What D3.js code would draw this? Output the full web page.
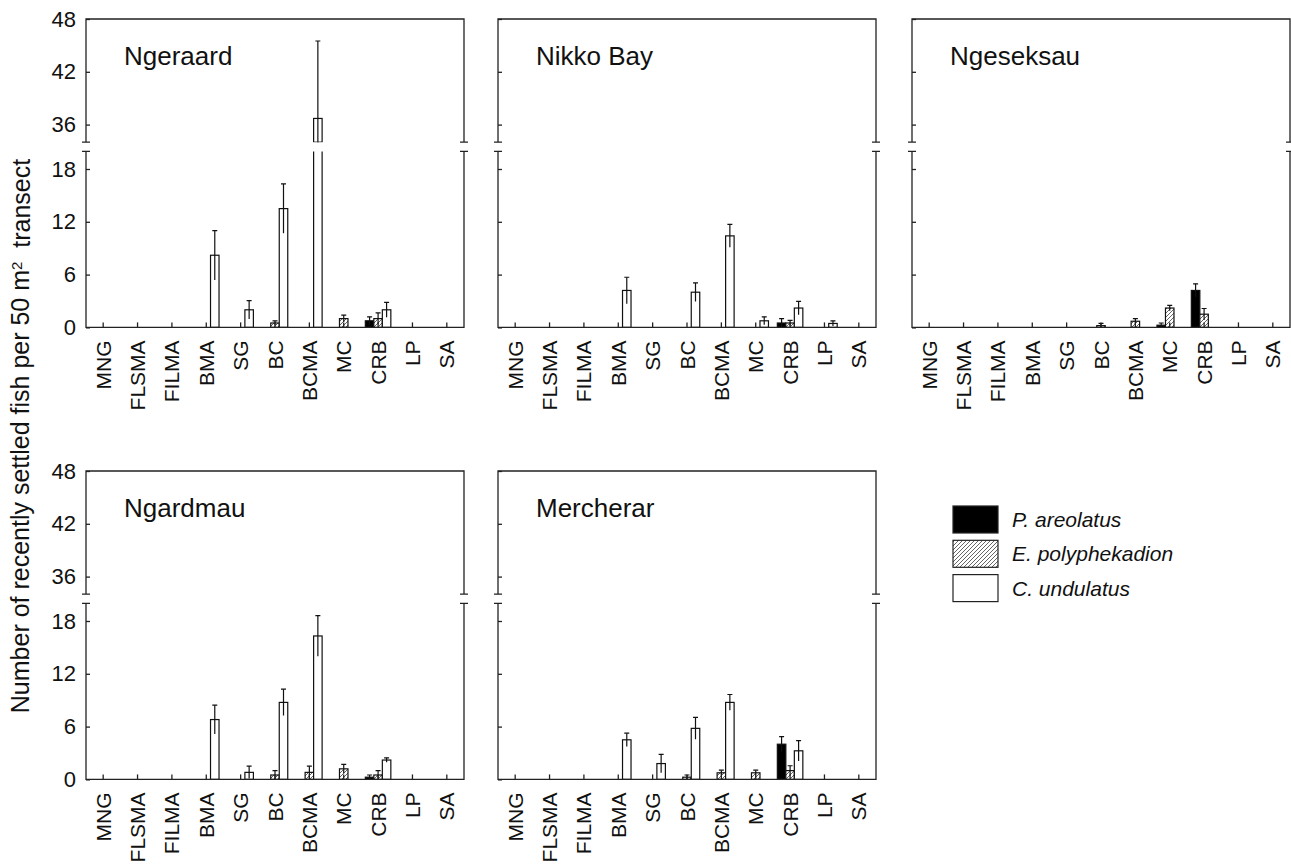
<!DOCTYPE html>
<html>
<head>
<meta charset="utf-8">
<script src="https://cdnjs.cloudflare.com/ajax/libs/d3/7.8.5/d3.min.js"></script>
<style>
  body { margin: 0; background: #fff; }
  svg { font-family: 'Liberation Sans', Arial, Helvetica, sans-serif; }
  .eje text { font-size: 22px; fill: #111; }
  .ejex text { font-size: 21px; }
  .eje line { stroke: #222; stroke-width: 1.3px; }
  .marco { stroke: #222; stroke-width: 1.3px; fill: none; }
</style>
</head>
<body>
<div id="graf"></div>
<script>
// I. Datos
categorias = ['MNG', 'FLSMA', 'FILMA', 'BMA', 'SG', 'BC', 'BCMA', 'MC', 'CRB', 'LP', 'SA']
especies = ['P. areolatus', 'E. polyphekadion', 'C. undulatus']
sitios = ['Ngeraard', 'Nikko Bay', 'Ngeseksau', 'Ngardmau', 'Mercherar']

ticksBajo = [0, 6, 12, 18]
ticksAlto = [36, 42, 48]

// medias por sitio, una lista por especie (orden de categorias)
ngeraardP  = [0, 0, 0, 0, 0, 0, 0, 0, 0.75, 0, 0]
ngeraardE  = [0, 0, 0, 0, 0, 0.5, 0, 1.0, 1.0, 0, 0]
ngeraardC  = [0, 0, 0, 8.2, 2.0, 13.5, 36.7, 0, 2.0, 0, 0]
nikkoP     = [0, 0, 0, 0, 0, 0, 0, 0, 0.5, 0, 0]
nikkoE     = [0, 0, 0, 0, 0, 0, 0, 0, 0.5, 0, 0]
nikkoC     = [0, 0, 0, 4.2, 0, 4.0, 10.4, 0.75, 2.2, 0.45, 0]
ngeseksauP = [0, 0, 0, 0, 0, 0, 0, 0.25, 4.2, 0, 0]
ngeseksauE = [0, 0, 0, 0, 0, 0.2, 0.7, 2.2, 1.5, 0, 0]
ngeseksauC = [0, 0, 0, 0, 0, 0, 0, 0, 0, 0, 0]
ngardmauP  = [0, 0, 0, 0, 0, 0, 0, 0, 0.25, 0, 0]
ngardmauE  = [0, 0, 0, 0, 0, 0.5, 0.8, 1.2, 0.5, 0, 0]
ngardmauC  = [0, 0, 0, 6.8, 0.8, 8.75, 16.3, 0, 2.2, 0, 0]
mercherarP = [0, 0, 0, 0, 0, 0, 0, 0, 4.0, 0, 0]
mercherarE = [0, 0, 0, 0, 0, 0.25, 0.75, 0.75, 1.0, 0, 0]
mercherarC = [0, 0, 0, 4.5, 1.8, 5.8, 8.75, 0, 3.25, 0, 0]

// error estandar
ngeraardPse  = [0, 0, 0, 0, 0, 0, 0, 0, 0.45, 0, 0]
ngeraardEse  = [0, 0, 0, 0, 0, 0.25, 0, 0.4, 0.65, 0, 0]
ngeraardCse  = [0, 0, 0, 2.8, 1.05, 2.8, 8.8, 0, 0.85, 0, 0]
nikkoPse     = [0, 0, 0, 0, 0, 0, 0, 0, 0.5, 0, 0]
nikkoEse     = [0, 0, 0, 0, 0, 0, 0, 0, 0.3, 0, 0]
nikkoCse     = [0, 0, 0, 1.5, 0, 1.05, 1.3, 0.45, 0.75, 0.3, 0]
ngeseksauPse = [0, 0, 0, 0, 0, 0, 0, 0.25, 0.75, 0, 0]
ngeseksauEse = [0, 0, 0, 0, 0, 0.25, 0.3, 0.3, 0.65, 0, 0]
ngeseksauCse = [0, 0, 0, 0, 0, 0, 0, 0, 0, 0, 0]
ngardmauPse  = [0, 0, 0, 0, 0, 0, 0, 0, 0.25, 0, 0]
ngardmauEse  = [0, 0, 0, 0, 0, 0.5, 0.7, 0.5, 0.5, 0, 0]
ngardmauCse  = [0, 0, 0, 1.65, 0.7, 1.5, 2.3, 0, 0.25, 0, 0]
mercherarPse = [0, 0, 0, 0, 0, 0, 0, 0, 0.85, 0, 0]
mercherarEse = [0, 0, 0, 0, 0, 0.25, 0.3, 0.3, 0.55, 0, 0]
mercherarCse = [0, 0, 0, 0.75, 1.05, 1.25, 0.9, 0, 1.15, 0, 0]

medias = [
  [ngeraardP, ngeraardE, ngeraardC],
  [nikkoP, nikkoE, nikkoC],
  [ngeseksauP, ngeseksauE, ngeseksauC],
  [ngardmauP, ngardmauE, ngardmauC],
  [mercherarP, mercherarE, mercherarC]
]
errores = [
  [ngeraardPse, ngeraardEse, ngeraardCse],
  [nikkoPse, nikkoEse, nikkoCse],
  [ngeseksauPse, ngeseksauEse, ngeseksauCse],
  [ngardmauPse, ngardmauEse, ngardmauCse],
  [mercherarPse, mercherarEse, mercherarCse]
]

// II. Configuración
ancho_total = 1291
alto_total = 864

ancho = 378
k = 8.8                 // px por unidad
altoAlto = 14 * k       // tramo 34-48
hueco = 9.2
altoBajo = 20 * k       // tramo 0-20
alto = altoAlto + hueco + altoBajo

columnas = [86, 498, 912]
filas = [19, 471]

svg = d3.select('#graf').append('svg')
        .attr('width', ancho_total)
        .attr('height', alto_total)

defs = svg.append('defs')

trama = defs.append('pattern')
            .attr('id', 'trama')
            .attr('patternUnits', 'userSpaceOnUse')
            .attr('width', 4)
            .attr('height', 4)
trama.append('rect').attr('width', 4).attr('height', 4).attr('fill', '#fff')
trama.append('path')
     .attr('d', 'M-1,1 l2,-2 M0,4 l4,-4 M3,5 l2,-2')
     .attr('stroke', '#666')
     .attr('stroke-width', 1)

defs.append('clipPath').attr('id', 'clipAlto')
    .append('rect')
    .attr('x', -2).attr('y', 0)
    .attr('width', ancho + 4).attr('height', altoAlto)

defs.append('clipPath').attr('id', 'clipBajo')
    .append('rect')
    .attr('x', -2).attr('y', altoAlto + hueco)
    .attr('width', ancho + 4).attr('height', altoBajo)

rellenos = ['#000', 'url(#trama)', '#fff']

x = d3.scaleBand()
      .domain(categorias)
      .range([0, ancho])
      .padding(0)

xs = d3.scaleBand()
       .domain(especies)
       .range([-12.75, 12.75])

yAlto = d3.scaleLinear()
          .domain([34, 48])
          .range([altoAlto, 0])

yBajo = d3.scaleLinear()
          .domain([0, 20])
          .range([alto, alto - altoBajo])

tramos = [
  { y: yAlto, clip: 'url(#clipAlto)' },
  { y: yBajo, clip: 'url(#clipBajo)' }
]

centro = d => x(d.cat) + x.bandwidth() / 2 + xs(d.esp) + xs.bandwidth() / 2

// III. Paneles
sitios.forEach((sitio, i) => {
  col = i % 3
  fila = Math.floor(i / 3)
  g = svg.append('g')
         .attr('transform', `translate(${ columnas[col] }, ${ filas[fila] })`)

  datos = []
  especies.forEach((esp, j) => {
    categorias.forEach((cat, c) => {
      v = medias[i][j][c]
      if (v > 0) datos.push({ cat: cat, esp: esp, j: j, v: v, se: errores[i][j][c] })
    })
  })

  tramos.forEach(t => {
    capa = g.append('g').attr('clip-path', t.clip)
    d0 = t.y.domain()[0]

    capa.selectAll('rect')
        .data(datos.filter(d => d.v > d0))
        .enter()
        .append('rect')
          .attr('x', d => x(d.cat) + x.bandwidth() / 2 + xs(d.esp))
          .attr('width', xs.bandwidth())
          .attr('y', d => t.y(d.v))
          .attr('height', d => t.y(d0) - t.y(d.v))
          .attr('fill', d => rellenos[d.j])
          .attr('stroke', '#111')
          .attr('stroke-width', 1.2)

    errs = datos.filter(d => d.se > 0)
    capa.selectAll('line.err')
        .data(errs)
        .enter()
        .append('line')
          .attr('class', 'err')
          .attr('x1', centro)
          .attr('x2', centro)
          .attr('y1', d => t.y(Math.max(0, d.v - d.se)))
          .attr('y2', d => t.y(d.v + d.se))
          .attr('stroke', '#111')
          .attr('stroke-width', 1.2)

    capa.selectAll('line.cap')
        .data(errs)
        .enter()
        .append('line')
          .attr('class', 'cap')
          .attr('x1', d => centro(d) - 2.5)
          .attr('x2', d => centro(d) + 2.5)
          .attr('y1', d => t.y(d.v + d.se))
          .attr('y2', d => t.y(d.v + d.se))
          .attr('stroke', '#111')
          .attr('stroke-width', 1.2)
  })

  // ejes
  conEtiqueta = col == 0
  yAltoCall = d3.axisLeft(yAlto)
                .tickValues(ticksAlto)
                .tickSizeInner(-4)
                .tickSizeOuter(0)
                .tickPadding(10)
                .tickFormat(conEtiqueta ? d3.format('d') : '')
  yBajoCall = d3.axisLeft(yBajo)
                .tickValues(ticksBajo)
                .tickSizeInner(-4)
                .tickSizeOuter(0)
                .tickPadding(10)
                .tickFormat(conEtiqueta ? d3.format('d') : '')

  g.append('g').attr('class', 'eje').call(yAltoCall).select('.domain').remove()
  g.append('g').attr('class', 'eje').call(yBajoCall).select('.domain').remove()

  xAxisCall = d3.axisBottom(x)
                .tickSizeInner(-5)
                .tickSizeOuter(0)
  xg = g.append('g')
        .attr('class', 'eje ejex')
        .attr('transform', `translate(0, ${ alto })`)
        .call(xAxisCall)
  xg.select('.domain').remove()
  xg.selectAll('text')
    .attr('x', -13)
    .attr('y', 0)
    .attr('dy', '0.36em')
    .attr('text-anchor', 'end')
    .attr('transform', 'rotate(-90)')

  // marco con corte
  yc1 = yAlto(34)
  yc2 = yBajo(20)
  marco = d3.path()
  marco.moveTo(0, yc1); marco.lineTo(0, 0); marco.lineTo(ancho, 0); marco.lineTo(ancho, yc1)
  marco.moveTo(0, yc2); marco.lineTo(0, alto); marco.lineTo(ancho, alto); marco.lineTo(ancho, yc2)
  ;[0, ancho].forEach(px => {
    [yc1, yc2].forEach(py => {
      marco.moveTo(px - 4, py); marco.lineTo(px + 4, py)
    })
  })
  g.append('path').attr('class', 'marco').attr('d', marco.toString())

  g.append('text')
   .attr('x', 38)
   .attr('y', 46)
   .style('font-size', '26px')
   .style('fill', '#111')
   .text(sitio)
})

// IV. Título del eje y
titY = svg.append('text')
          .attr('transform', 'translate(29, 436) rotate(-90)')
          .attr('text-anchor', 'middle')
          .style('font-size', '25px')
          .style('fill', '#111')
titY.append('tspan').text('Number of recently settled fish per 50 m')
titY.append('tspan').attr('dy', '-0.5em').style('font-size', '15px').text('2')
titY.append('tspan').attr('dy', '0.32em').text('\u00a0 transect')

// V. Leyenda
leyenda = svg.append('g').attr('transform', 'translate(953, 506)')
especies.forEach((esp, j) => {
  leyenda.append('rect')
         .attr('x', 0)
         .attr('y', j * 34.3)
         .attr('width', 45)
         .attr('height', 27)
         .attr('fill', rellenos[j])
         .attr('stroke', '#222')
         .attr('stroke-width', 1.2)
  leyenda.append('text')
         .attr('x', 59)
         .attr('y', j * 34.3 + 21)
         .style('font-size', '21px')
         .style('font-style', 'italic')
         .style('fill', '#111')
         .text(esp)
})
</script>
</body>
</html>
